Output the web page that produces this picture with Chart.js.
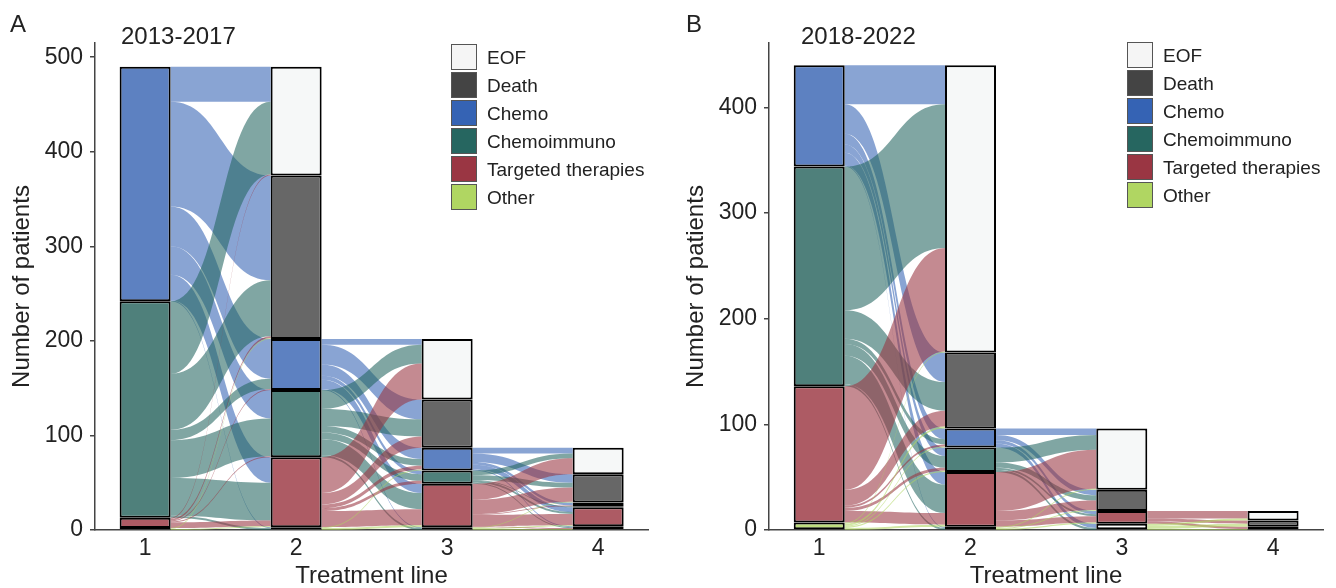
<!DOCTYPE html>
<html><head><meta charset="utf-8">
<script src="https://cdn.jsdelivr.net/npm/chart.js@4.4.0/dist/chart.umd.min.js"></script>
<style>
html,body{margin:0;padding:0;background:#fff;}
body{width:1336px;height:588px;position:relative;overflow:hidden;font-family:"Liberation Sans",Arial,sans-serif;color:#222;}
canvas{position:absolute;top:0;}
#cA{left:0;} #cB{left:674px;}
.lbl{position:absolute;white-space:nowrap;line-height:1;}
.leg{position:absolute;}
.leg .row{position:absolute;left:0;height:26px;display:flex;align-items:center;white-space:nowrap;}
.leg .box{width:26px;height:26px;box-sizing:border-box;border:1px solid #555;margin-right:10px;flex:none;}
.leg .txt{font-size:19px;line-height:1;}
</style></head>
<body>
<canvas id="cA" width="668" height="588"></canvas>
<canvas id="cB" width="662" height="588"></canvas>
<div class="lbl" style="left:10px;top:12px;font-size:24px">A</div>
<div class="lbl" style="left:121px;top:24px;font-size:24px">2013-2017</div>
<div class="lbl" style="left:686px;top:12px;font-size:24px">B</div>
<div class="lbl" style="left:801px;top:24px;font-size:24px">2018-2022</div>
<div class="leg" id="legA" style="left:451px;top:44px"></div>
<div class="leg" id="legB" style="left:1127px;top:42px"></div>
<script>
// ---------- data ----------
const lineLabels = ['1', '2', '3', '4'];
const categories = ['EOF', 'Death', 'Chemo', 'Chemoimmuno', 'Targeted therapies', 'Other']; // top of stack first
const treatments = ['Chemo', 'Chemoimmuno', 'Targeted therapies', 'Other'];               // flow sources
const yTicksA = [0, 100, 200, 300, 400, 500];
const yTicksB = [0, 100, 200, 300, 400];

// Panel A (2013-2017): patients per category at each treatment line
const A_EOF       = [0, 115, 64, 28];
const A_Death     = [0, 173, 51, 30];
const A_Chemo     = [248, 54, 24, 4];
const A_Chemoimm  = [229, 71, 14, 1];
const A_Targeted  = [11, 74, 46, 20];
const A_Other     = [2, 3, 3, 4];
// flows: rows = source (Chemo, Chemoimmuno, Targeted, Other), cols = destination (EOF, Death, Chemo, Chemoimmuno, Targeted, Other)
const A_flow12 = [[37,111,42,30,27,1],[77,59,11,40,40,2],[1,2,1,1,6,0],[0,1,0,0,1,0]];
const A_flow23 = [[6,21,12,4,10,1],[20,18,7,7,17,2],[38,12,4,3,17,0],[0,0,1,0,2,0]];
const A_flow34 = [[6,9,3,0,5,1],[5,5,0,1,2,1],[17,15,1,0,12,1],[0,1,0,0,1,1]];

// Panel B (2018-2022)
const B_EOF       = [0, 272, 58, 9];
const B_Death     = [0, 72, 20, 6];
const B_Chemo     = [96, 18, 0, 0];
const B_Chemoimm  = [208, 23, 0, 0];
const B_Targeted  = [129, 52, 12, 3];
const B_Other     = [7, 3, 6, 0];
const B_flow12 = [[37,28,10,8,12,1],[136,27,5,11,27,2],[98,15,2,3,11,0],[1,2,1,1,2,0]];
const B_flow23 = [[6,5,0,0,3,4],[14,5,0,0,2,2],[37,9,0,0,6,0],[1,1,0,0,1,0]];
const B_flow34 = [[0,0,0,0,0,0],[0,0,0,0,0,0],[7,3,0,0,2,0],[2,3,0,0,1,0]];

// ---------- styles ----------
const legendFill = {'EOF':'#f5f5f5','Death':'#444444','Chemo':'#3563b4','Chemoimmuno':'#266660','Targeted therapies':'#9a3643','Other':'#b0d662'};
const barFill = {'EOF':'#f6f8f8','Death':'#676767','Chemo':'#5d81c1','Chemoimmuno':'#4f807b','Targeted therapies':'#ad5b64','Other':'#bedd7d'};
const flowRGB = {'Chemo':[52,98,180],'Chemoimmuno':[37,102,96],'Targeted therapies':[154,53,66],'Other':[176,214,98]};
const FLOW_ALPHA = 0.58;
const FONT = '"Liberation Sans", Arial, sans-serif';

const panelA = {
  values: {'EOF':A_EOF,'Death':A_Death,'Chemo':A_Chemo,'Chemoimmuno':A_Chemoimm,'Targeted therapies':A_Targeted,'Other':A_Other},
  flows: [A_flow12, A_flow23, A_flow34], yMax: 515, yTicks: yTicksA, padRight: 20, white: {}
};
const panelB = {
  values: {'EOF':B_EOF,'Death':B_Death,'Chemo':B_Chemo,'Chemoimmuno':B_Chemoimm,'Targeted therapies':B_Targeted,'Other':B_Other},
  flows: [B_flow12, B_flow23, B_flow34], yMax: 461, yTicks: yTicksB, padRight: 13, white: {'Other':[2]}
};

const BAR_W = 51;

const flowPlugin = {
  id: 'flows',
  beforeDatasetsDraw(chart) {
    const panel = chart.options.plugins.flows.panel;
    const ctx = chart.ctx, xS = chart.scales.x, yS = chart.scales.y;
    const stackOrder = categories.slice().reverse();
    const vals = panel.values;
    const bases = (li) => { let acc = 0; const b = {}; stackOrder.forEach(c => { b[c] = acc; acc += vals[c][li]; }); return b; };
    const half = BAR_W / 2;
    ctx.save();
    panel.flows.forEach((F, t) => {
      const sb = bases(t), db = bases(t + 1);
      const x0 = xS.getPixelForValue(t + 1) + half;
      const x1 = xS.getPixelForValue(t + 2) - half;
      const xm = (x0 + x1) / 2;
      const spans = {};
      treatments.forEach((s, si) => {
        let cur = sb[s] + vals[s][t];
        categories.forEach((d, di) => {
          const f = F[si][di];
          spans[si + '_' + di] = {f, s0: cur, s1: cur - f};
          cur -= f;
        });
      });
      categories.forEach((d, di) => {
        let cur = db[d] + vals[d][t + 1];
        treatments.forEach((s, si) => {
          const sp = spans[si + '_' + di];
          sp.d0 = cur; sp.d1 = cur - sp.f; cur -= sp.f;
        });
      });
      treatments.forEach((s, si) => {
        const [r, g, b] = flowRGB[s];
        ctx.fillStyle = `rgba(${r},${g},${b},${FLOW_ALPHA})`;
        categories.forEach((d, di) => {
          const sp = spans[si + '_' + di];
          if (!sp.f) return;
          const ya = yS.getPixelForValue(sp.s0), yb = yS.getPixelForValue(sp.s1);
          const yc = yS.getPixelForValue(sp.d0), yd = yS.getPixelForValue(sp.d1);
          ctx.beginPath();
          ctx.moveTo(x0, ya);
          ctx.bezierCurveTo(xm, ya, xm, yc, x1, yc);
          ctx.lineTo(x1, yd);
          ctx.bezierCurveTo(xm, yd, xm, yb, x0, yb);
          ctx.closePath();
          ctx.fill();
        });
      });
    });
    ctx.restore();
  }
};

function makeChart(id, panel) {
  const stackOrder = categories.slice().reverse();
  const datasets = stackOrder.map(cat => ({
    label: cat,
    data: panel.values[cat].map((v, i) => ({x: i + 1, y: v === 0 ? null : v})),
    backgroundColor: panel.values[cat].map((v, i) => (panel.white[cat] && panel.white[cat].includes(i)) ? '#ffffff' : barFill[cat]),
    borderColor: '#000000',
    borderWidth: 2,
    borderSkipped: false,
    inflateAmount: 0,
    barThickness: BAR_W
  }));
  return new Chart(document.getElementById(id), {
    type: 'bar',
    data: {datasets},
    plugins: [flowPlugin],
    options: {
      responsive: false,
      animation: false,
      layout: {padding: {top: 43, right: panel.padRight, bottom: 0, left: 0}},
      plugins: {legend: {display: false}, tooltip: {enabled: false}, flows: {panel}},
      scales: {
        x: {
          type: 'linear', stacked: true, min: 0.668, max: 4.33, offset: false,
          afterBuildTicks: s => { s.ticks = lineLabels.map((l, i) => ({value: i + 1})); },
          afterFit: s => { s.height = 58; },
          ticks: {color: '#222', font: {family: FONT, size: 23}, padding: 5, callback: v => lineLabels[v - 1]},
          grid: {display: true, offset: false, drawOnChartArea: false, drawTicks: false},
          border: {display: true, color: '#444', width: 1.5},
          title: {display: true, text: 'Treatment line', color: '#222', font: {family: FONT, size: 24, lineHeight: 1}, padding: {top: 0, bottom: 0}}
        },
        y: {
          stacked: true, min: 0, max: panel.yMax,
          afterBuildTicks: s => { s.ticks = panel.yTicks.map(v => ({value: v})); },
          afterFit: s => { s.width = 95; },
          ticks: {color: '#222', font: {family: FONT, size: 23}, padding: 7},
          grid: {display: true, drawOnChartArea: false, drawTicks: true, tickLength: 5, color: '#444', lineWidth: 1.5},
          border: {display: true, color: '#444', width: 1.5},
          title: {display: true, text: 'Number of patients', color: '#222', font: {family: FONT, size: 24, lineHeight: 1}, padding: {top: 10, bottom: 0}}
        }
      }
    }
  });
}

function makeLegend(id) {
  const el = document.getElementById(id);
  categories.forEach((c, i) => {
    const row = document.createElement('div');
    row.className = 'row';
    row.style.top = (i * 28) + 'px';
    const box = document.createElement('div');
    box.className = 'box';
    box.style.background = legendFill[c];
    const txt = document.createElement('span');
    txt.className = 'txt';
    txt.textContent = c;
    row.appendChild(box); row.appendChild(txt);
    el.appendChild(row);
  });
}

makeChart('cA', panelA);
makeChart('cB', panelB);
makeLegend('legA');
makeLegend('legB');
</script>
</body></html>
